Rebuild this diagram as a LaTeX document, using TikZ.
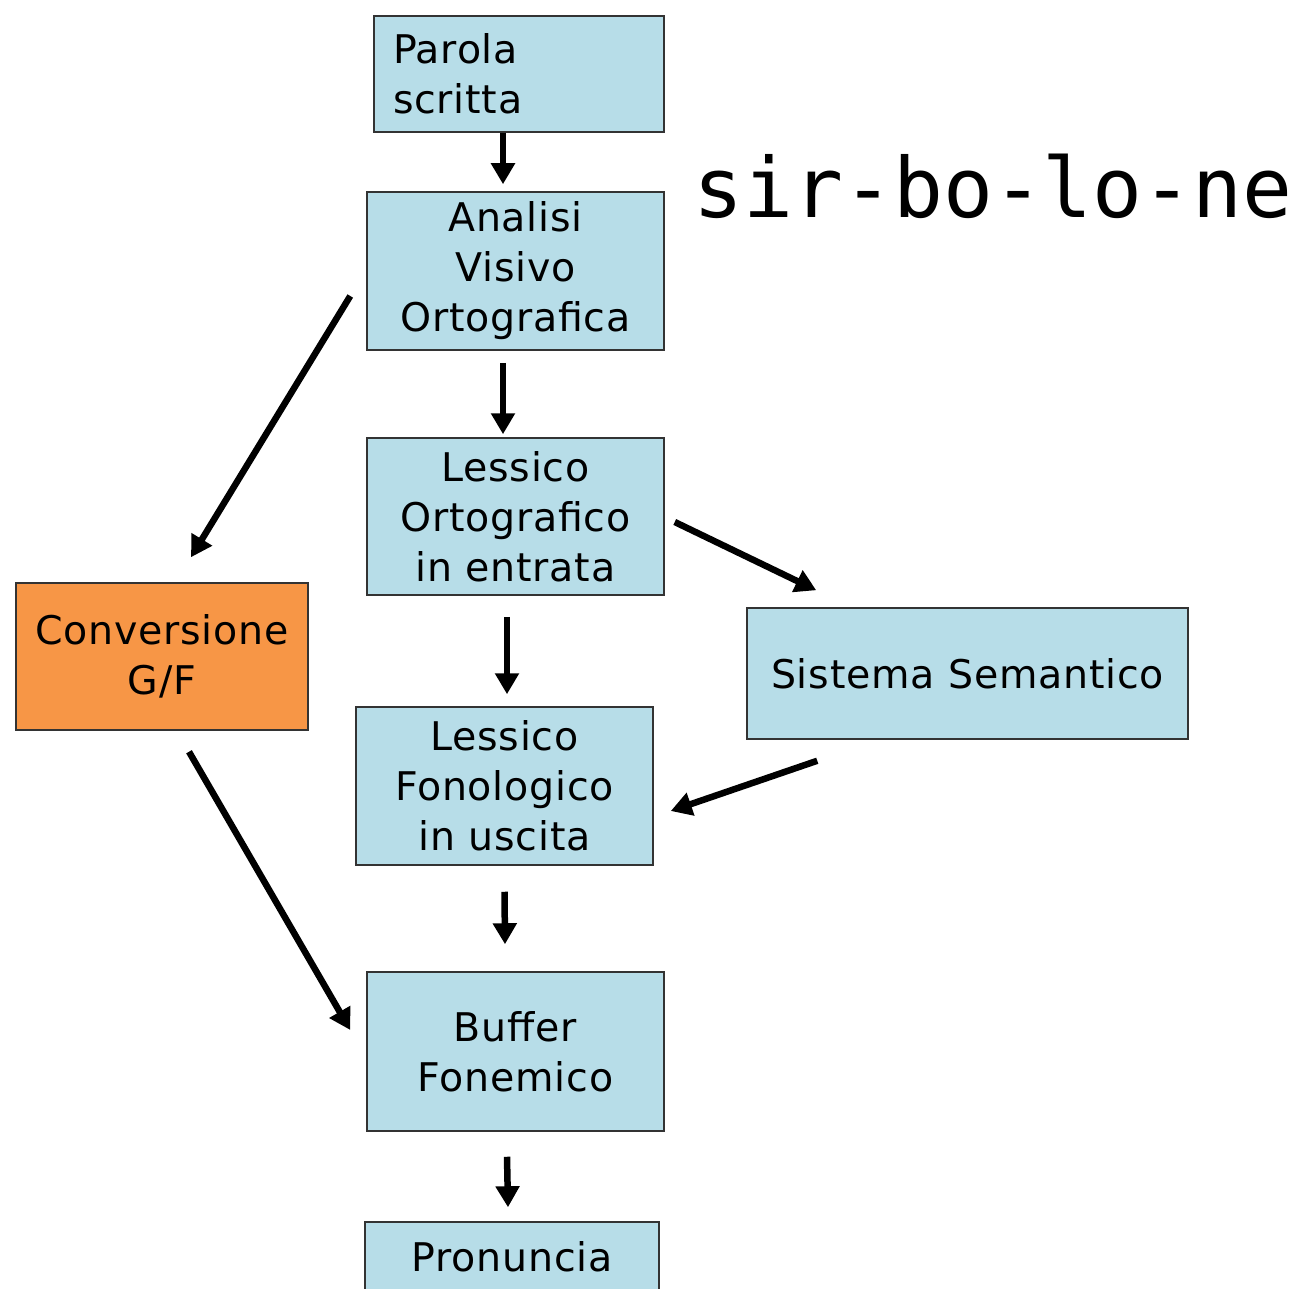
\documentclass[tikz,border=0pt]{standalone}
\usepackage{fontspec}
\usepackage{tikz}
\usetikzlibrary{arrows.meta}
\setmainfont[LetterSpace=2]{DejaVu Sans}
\newfontfamily\monofnt{DejaVu Sans Mono}
\definecolor{boxblue}{HTML}{B7DDE8}
\definecolor{boxorange}{HTML}{F79646}

\begin{document}
\begin{tikzpicture}[x=1pt,y=-1pt,
        blubox/.style={draw=black!80,line width=1.5pt,fill=boxblue,inner sep=0pt,
            align=center,font=\fontsize{39.5}{50}\selectfont},
        orabox/.style={blubox,fill=boxorange},
        arr/.style={line width=6.5pt,-{Triangle[width=23pt,length=21pt]}}]
        \clip (0,0) rectangle (1304,1289);
        % boxes
        \draw (519,74) node[blubox,minimum width=290pt,minimum height=116pt,text width=252pt,align=left](ps) {Parola\\scritta};
        \draw (515.5,271) node[blubox,minimum width=297pt,minimum height=158pt](avo) {Analisi\\Visivo\\Ortografica};
        \draw (515.5,516.5) node[blubox,minimum width=297pt,minimum height=157pt](loe) {Lessico\\Ortografico\\in entrata};
        \draw (162,656.5) node[orabox,minimum width=292pt,minimum height=147pt](cgf) {Conversione\\G/F};
        \draw (967.5,673.5) node[blubox,minimum width=441pt,minimum height=131pt](ss) {Sistema Semantico};
        \draw (504.5,786) node[blubox,minimum width=297pt,minimum height=158pt](lfu) {Lessico\\Fonologico\\in uscita};
        \draw (515.5,1051.5) node[blubox,minimum width=297pt,minimum height=159pt](bf) {Buffer\\Fonemico};
        \draw (512,1257) node[blubox,minimum width=294pt,minimum height=70pt](pr) {Pronuncia};
        \draw (693,218) node[anchor=base west,inner sep=0pt,font=\monofnt\fontsize{83}{90}\selectfont](sill) {sir-bo-lo-ne};
        % arrows
        \draw[arr] ([xshift=-16pt]ps.south) -- ([xshift=-12.5pt,yshift=7pt]avo.north);
        \draw[arr] ([xshift=-12.5pt,yshift=-12pt]avo.south) -- ([xshift=-12.5pt,yshift=3pt]loe.north);
        \draw[arr] ([xshift=-16pt,yshift=-25pt]avo.west) -- ([xshift=29pt,yshift=25pt]cgf.north);
        \draw[arr] ([xshift=10pt,yshift=-5.5pt]loe.east) -- ([xshift=70pt,yshift=17pt]ss.north west);
        \draw[arr] ([xshift=-8.5pt,yshift=-21pt]loe.south) -- ([xshift=2.5pt,yshift=12pt]lfu.north);
        \draw[arr] ([xshift=71pt,yshift=-21pt]ss.south west) -- ([xshift=17pt,yshift=-25pt]lfu.east);
        \draw[arr] ([xshift=27pt,yshift=-21pt]cgf.south) -- ([xshift=-16pt,yshift=21.5pt]bf.west);
        \draw[arr] ([yshift=-26pt]lfu.south) -- ([xshift=-10.5pt,yshift=27pt]bf.north);
        \draw[arr] ([xshift=-8.5pt,yshift=-25pt]bf.south) -- ([xshift=-4pt,yshift=14pt]pr.north);
\end{tikzpicture}
\end{document}
